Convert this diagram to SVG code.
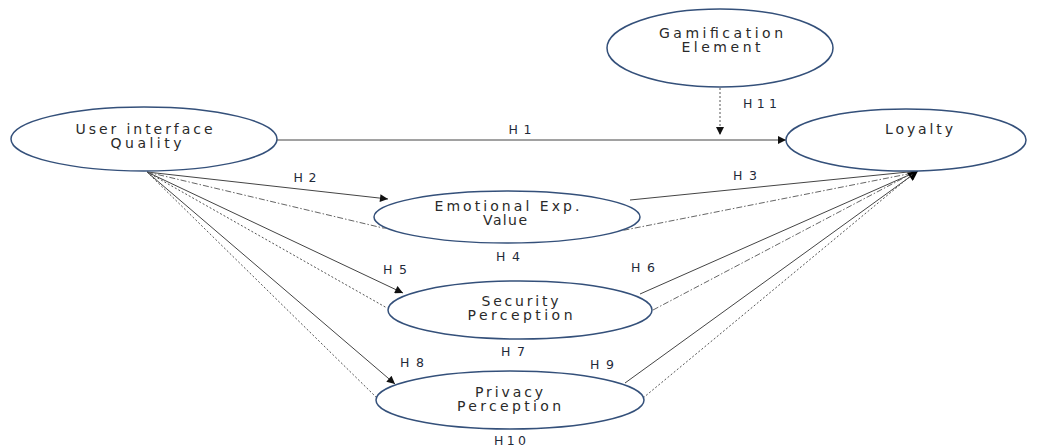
<svg xmlns="http://www.w3.org/2000/svg" width="1041" height="446" viewBox="0 0 1041 446">
<style>
.node ellipse{fill:#fff;stroke:#34507a;stroke-width:1.5}
.t{font-family:"DejaVu Sans","Liberation Sans",sans-serif;font-size:14px;fill:#2a2a2a;text-anchor:middle}
.lb{font-family:"DejaVu Sans","Liberation Sans",sans-serif;font-size:12.5px;fill:#1f2a3a;text-anchor:middle}
.s{fill:none;stroke:#444;stroke-width:1}
.dd{fill:none;stroke:#666;stroke-width:1;stroke-dasharray:6 2 1.5 2}
.dt{fill:none;stroke:#555;stroke-width:1;stroke-dasharray:2 2}
</style>
<defs>
<marker id="ah" viewBox="0 0 10 10" refX="10" refY="5" markerWidth="10" markerHeight="8" markerUnits="userSpaceOnUse" orient="auto">
<path d="M0,0 L10,5 L0,10 Z" fill="#111"/>
</marker>
<marker id="ahb" viewBox="0 0 10 10" refX="10" refY="5" markerWidth="13" markerHeight="10" markerUnits="userSpaceOnUse" orient="auto">
<path d="M0,0 L10,5 L0,10 Z" fill="#000"/>
</marker>
</defs>
<rect width="1041" height="446" fill="#fff"/>
<g id="connectors">
<line class="s" x1="277" y1="140" x2="786" y2="140" marker-end="url(#ah)"/>
<line class="dt" x1="720" y1="88" x2="720" y2="135" marker-end="url(#ah)"/>
<line class="s" x1="147" y1="172" x2="388" y2="199" marker-end="url(#ah)"/>
<polyline class="dd" points="147,172 383,228 625,230 913,173"/>
<line class="s" x1="147" y1="172" x2="403" y2="293" marker-end="url(#ah)"/>
<line class="dt" x1="147" y1="172" x2="387" y2="308"/>
<line class="s" x1="147" y1="172" x2="395" y2="384" marker-end="url(#ah)"/>
<line class="dt" x1="147" y1="172" x2="377" y2="398"/>
<line class="s" x1="630" y1="200" x2="918" y2="171"/>
<line class="s" x1="640" y1="294" x2="918" y2="171"/>
<line class="dd" x1="653" y1="310" x2="913" y2="173"/>
<line class="s" x1="625" y1="383" x2="918" y2="171" marker-end="url(#ahb)"/>
<line class="dt" x1="643" y1="398" x2="913" y2="174"/>
</g>
<g id="n-uiq" class="node"><ellipse cx="144" cy="139" rx="133" ry="32"/><text class="t" x="144" y="134" textLength="137" lengthAdjust="spacing">User interface</text><text class="t" x="146" y="148" textLength="71" lengthAdjust="spacing">Quality</text></g>
<g id="n-gam" class="node"><ellipse cx="720" cy="48" rx="113" ry="39"/><text class="t" x="721" y="38" textLength="124" lengthAdjust="spacing">Gamification</text><text class="t" x="721" y="52" textLength="79" lengthAdjust="spacing">Element</text></g>
<g id="n-loy" class="node"><ellipse cx="906" cy="140" rx="120" ry="31"/><text class="t" x="919" y="134" textLength="68" lengthAdjust="spacing">Loyalty</text></g>
<g id="n-emo" class="node"><ellipse cx="507" cy="217" rx="133" ry="26"/><text class="t" x="507" y="211" textLength="145" lengthAdjust="spacing">Emotional Exp.</text><text class="t" x="505" y="225" textLength="44" lengthAdjust="spacing">Value</text></g>
<g id="n-sec" class="node"><ellipse cx="520" cy="310" rx="132" ry="29"/><text class="t" x="520" y="306" textLength="77" lengthAdjust="spacing">Security</text><text class="t" x="520" y="320" textLength="105" lengthAdjust="spacing">Perception</text></g>
<g id="n-pri" class="node"><ellipse cx="510" cy="400" rx="134" ry="29"/><text class="t" x="509" y="397" textLength="68" lengthAdjust="spacing">Privacy</text><text class="t" x="509" y="411" textLength="104" lengthAdjust="spacing">Perception</text></g>
<g id="labels">
<text class="lb" x="520" y="134" textLength="23" lengthAdjust="spacing">H1</text>
<text class="lb" x="305" y="182" textLength="23" lengthAdjust="spacing">H2</text>
<text class="lb" x="745" y="180" textLength="24" lengthAdjust="spacing">H3</text>
<text class="lb" x="508" y="261" textLength="24" lengthAdjust="spacing">H4</text>
<text class="lb" x="395" y="274" textLength="24" lengthAdjust="spacing">H5</text>
<text class="lb" x="643" y="272" textLength="24" lengthAdjust="spacing">H6</text>
<text class="lb" x="513" y="356" textLength="24" lengthAdjust="spacing">H7</text>
<text class="lb" x="412" y="367" textLength="24" lengthAdjust="spacing">H8</text>
<text class="lb" x="602" y="369" textLength="24" lengthAdjust="spacing">H9</text>
<text class="lb" x="510" y="445" textLength="32" lengthAdjust="spacing">H10</text>
<text class="lb" x="760" y="108" textLength="34" lengthAdjust="spacing">H11</text>
</g>
</svg>
